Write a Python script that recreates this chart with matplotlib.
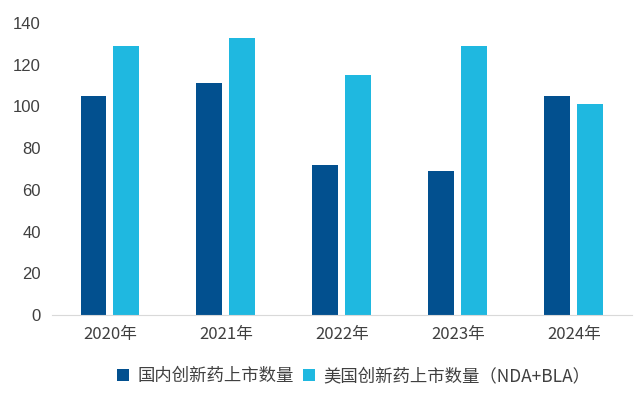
import matplotlib
matplotlib.use('Agg')
import matplotlib.pyplot as plt
import numpy as np

# Data
years = ['2020年', '2021年', '2022年', '2023年', '2024年']
domestic = [105, 111, 72, 69, 105]
us = [129, 133, 115, 129, 101]
labels = ['国内创新药上市数量', '美国创新药上市数量（NDA+BLA）']

plt.rcParams['font.family'] = ['Noto Sans CJK SC', 'DejaVu Sans']

fig = plt.figure(figsize=(6.37, 3.96), dpi=100)
ax = fig.add_axes([0.0816, 0.2045, 0.9104, 0.7375])

# Plotting
x = np.arange(len(years))
w = 0.224
off = 0.142
ax.bar(x - off, domestic, w, color='#02508F', label=labels[0])
ax.bar(x + off, us, w, color='#1FB8E0', label=labels[1])

# Customization
ax.set_xlim(-0.5, len(years) - 0.5)
ax.set_ylim(0, 140)
ax.set_yticks(range(0, 141, 20))
ax.set_xticks(x)
ax.set_xticklabels(years, fontsize=12, color='#404040')
for t in ax.get_yticklabels():
    t.set_fontfamily('Liberation Sans')
    t.set_fontsize(12)
    t.set_color('#404040')
ax.tick_params(length=0, pad=8)
for s in ['top', 'right', 'left']:
    ax.spines[s].set_visible(False)
ax.spines['bottom'].set_color('#D9D9D9')

ax.legend(loc='upper center', bbox_to_anchor=(0.52, -0.125), ncol=2, frameon=False,
          fontsize=12.5, handlelength=0.7, handleheight=0.7, handletextpad=0.5,
          columnspacing=0.5, labelcolor='#404040')

fig.savefig('out.png', dpi=100)
